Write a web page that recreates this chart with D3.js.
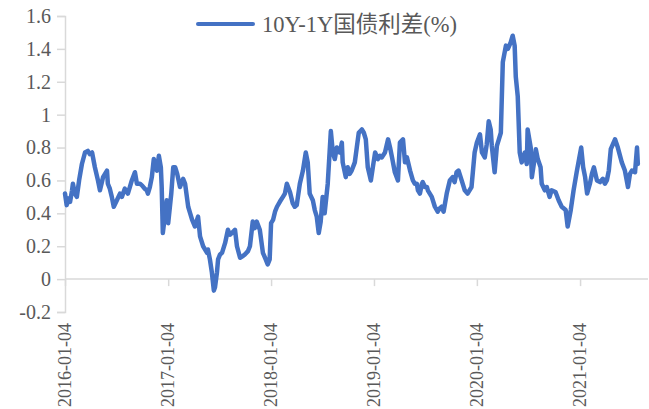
<!DOCTYPE html>
<html>
<head>
<meta charset="utf-8">
<script src="https://cdn.jsdelivr.net/npm/d3@7/dist/d3.min.js"></script>
<style>
  html, body { margin: 0; padding: 0; background: #fff; }
  svg { display: block; }
</style>
</head>
<body>
<svg id="chart" width="649" height="409"></svg>
<script>
// 10Y-1Y government bond yield spread (%), sampled trading dates
const dates = [
  "2016-01-04","2016-01-10","2016-01-15","2016-01-22","2016-01-29","2016-02-01","2016-02-08","2016-02-15","2016-02-23","2016-03-04",
  "2016-03-15","2016-03-25","2016-04-01","2016-04-09","2016-04-19","2016-04-30","2016-05-07","2016-05-18","2016-05-25","2016-06-01",
  "2016-06-04","2016-06-11","2016-06-18","2016-06-25","2016-07-06","2016-07-17","2016-07-24","2016-08-03","2016-08-14","2016-08-21",
  "2016-08-28","2016-09-08","2016-09-15","2016-09-26","2016-10-03","2016-10-13","2016-10-20","2016-10-24","2016-10-31","2016-11-07",
  "2016-11-14","2016-11-21","2016-11-25","2016-12-02","2016-12-09","2016-12-12","2016-12-16","2016-12-23","2016-12-30",
  "2017-01-04","2017-01-15","2017-01-22","2017-01-29","2017-02-05","2017-02-15","2017-02-26","2017-03-05","2017-03-16","2017-03-23",
  "2017-03-30","2017-04-09","2017-04-20","2017-04-27","2017-05-08","2017-05-22","2017-05-25","2017-06-01","2017-06-08","2017-06-15",
  "2017-06-19","2017-06-26","2017-06-30","2017-07-07","2017-07-14","2017-07-25","2017-08-04","2017-08-11","2017-08-18","2017-08-29",
  "2017-09-05","2017-09-16","2017-09-26","2017-10-03","2017-10-14","2017-10-21","2017-10-31","2017-11-07","2017-11-14","2017-11-25",
  "2017-12-06","2017-12-16","2017-12-23","2017-12-30",
  "2018-01-04","2018-01-11","2018-01-18","2018-01-25","2018-02-04","2018-02-15","2018-02-22","2018-03-01","2018-03-12","2018-03-22",
  "2018-03-29","2018-04-05","2018-04-16","2018-04-27","2018-05-07","2018-05-14","2018-05-21","2018-06-01","2018-06-08","2018-06-15",
  "2018-06-22","2018-06-29","2018-07-06","2018-07-13","2018-07-24","2018-08-04","2018-08-11","2018-08-18","2018-08-25","2018-09-05",
  "2018-09-12","2018-09-15","2018-09-26","2018-10-03","2018-10-10","2018-10-17","2018-10-28","2018-11-04","2018-11-11","2018-11-22",
  "2018-11-29","2018-12-06","2018-12-13","2018-12-24","2018-12-31",
  "2019-01-08","2019-01-18","2019-01-25","2019-02-01","2019-02-12","2019-02-23","2019-03-02","2019-03-09","2019-03-19","2019-03-30",
  "2019-04-06","2019-04-17","2019-04-24","2019-05-01","2019-05-12","2019-05-22","2019-05-29","2019-06-05","2019-06-09","2019-06-16",
  "2019-06-23","2019-06-26","2019-07-04","2019-07-11","2019-07-14","2019-07-21","2019-07-28","2019-08-08","2019-08-18","2019-08-25",
  "2019-09-01","2019-09-08","2019-09-19","2019-09-30","2019-10-10","2019-10-17","2019-10-24","2019-10-31","2019-11-11","2019-11-22",
  "2019-12-02","2019-12-09","2019-12-16","2019-12-27",
  "2020-01-04","2020-01-15","2020-01-22","2020-02-01","2020-02-08","2020-02-15","2020-02-22","2020-02-26","2020-03-07","2020-03-15",
  "2020-03-22","2020-03-29","2020-04-05","2020-04-16","2020-04-23","2020-05-03","2020-05-10","2020-05-17","2020-05-21","2020-05-28",
  "2020-06-04","2020-06-11","2020-06-22","2020-06-29","2020-07-02","2020-07-13","2020-07-17","2020-07-24","2020-07-31","2020-08-07",
  "2020-08-17","2020-08-21","2020-09-01","2020-09-08","2020-09-18","2020-09-25","2020-10-09","2020-10-20","2020-10-31","2020-11-14",
  "2020-11-21","2020-12-02","2020-12-12","2020-12-23",
  "2021-01-08","2021-01-15","2021-01-22","2021-01-29","2021-02-08","2021-02-15","2021-02-22","2021-03-05","2021-03-16","2021-03-26",
  "2021-04-02","2021-04-09","2021-04-16","2021-04-23","2021-05-08","2021-05-18","2021-06-01","2021-06-12","2021-06-23","2021-06-30",
  "2021-07-07","2021-07-18","2021-07-25","2021-07-28"
];
const spread = [
  0.52,0.45,0.49,0.47,0.54,0.58,0.52,0.50,0.60,0.70,
  0.77,0.78,0.76,0.77,0.68,0.60,0.54,0.62,0.64,0.66,
  0.58,0.55,0.50,0.44,0.48,0.52,0.50,0.55,0.52,0.56,
  0.60,0.65,0.58,0.58,0.57,0.55,0.54,0.52,0.56,0.62,
  0.73,0.68,0.66,0.75,0.68,0.56,0.28,0.38,0.48,
  0.34,0.52,0.68,0.68,0.64,0.56,0.61,0.58,0.44,0.40,
  0.36,0.32,0.38,0.26,0.20,0.16,0.18,0.12,0.04,-0.07,
  -0.05,0.04,0.12,0.15,0.16,0.22,0.30,0.27,0.28,0.30,
  0.20,0.13,0.14,0.15,0.17,0.20,0.35,0.31,0.35,0.30,
  0.16,0.12,0.09,0.12,
  0.34,0.36,0.41,0.44,0.47,0.50,0.52,0.58,0.53,0.46,
  0.44,0.45,0.58,0.66,0.77,0.71,0.52,0.48,0.42,0.38,
  0.28,0.35,0.50,0.40,0.58,0.90,0.77,0.73,0.80,0.77,
  0.83,0.71,0.62,0.68,0.64,0.66,0.71,0.80,0.89,0.91,
  0.89,0.85,0.68,0.60,0.68,
  0.77,0.73,0.75,0.74,0.77,0.85,0.80,0.74,0.65,0.60,
  0.83,0.85,0.71,0.74,0.66,0.60,0.58,0.58,0.54,0.52,
  0.58,0.59,0.56,0.56,0.54,0.52,0.50,0.44,0.41,0.43,
  0.44,0.41,0.52,0.60,0.62,0.59,0.65,0.66,0.60,0.54,
  0.52,0.54,0.56,0.77,
  0.83,0.88,0.77,0.74,0.82,0.96,0.91,0.81,0.65,0.81,
  0.85,0.89,1.32,1.42,1.40,1.44,1.48,1.42,1.23,1.11,
  0.77,0.71,0.77,0.70,0.91,0.80,0.62,0.70,0.79,0.73,
  0.68,0.58,0.54,0.56,0.50,0.54,0.53,0.48,0.44,0.42,
  0.32,0.42,0.54,0.65,
  0.80,0.68,0.62,0.52,0.58,0.64,0.68,0.60,0.59,0.61,
  0.58,0.60,0.66,0.79,0.85,0.80,0.71,0.66,0.56,0.64,
  0.66,0.65,0.80,0.70
];
const xTickLabels = ["2016-01-04","2017-01-04","2018-01-04","2019-01-04","2020-01-04","2021-01-04"];
const yTicks = [-0.2, 0, 0.2, 0.4, 0.6, 0.8, 1, 1.2, 1.4, 1.6];
const seriesName = "10Y-1Y国债利差(%)";

(function draw() {
  const parse = d3.timeParse("%Y-%m-%d");
  const points = dates.map((d, i) => ({ date: parse(d), value: spread[i] }));

  const svg = d3.select("#chart");
  const plot = { left: 65, right: 648, top: 16, bottom: 312 };
  const textColor = "#595959", axisColor = "#d9d9d9", lineColor = "#4472C4";
  const fontFamily = "'Liberation Serif', 'DejaVu Serif', 'Noto Sans CJK SC', serif";

  const x = d3.scaleTime()
    .domain([parse("2016-01-04"), parse("2021-09-02")])
    .range([plot.left, plot.right]);
  const y = d3.scaleLinear().domain([-0.2, 1.6]).range([plot.bottom, plot.top]);

  const fmt = d => (d < 0 ? "-" : "") + d3.format("")(+Math.abs(d).toFixed(1));

  // value axis
  const yAxis = svg.append("g")
    .attr("transform", `translate(${plot.left},0)`)
    .call(d3.axisLeft(y).tickValues(yTicks).tickSize(8).tickPadding(6).tickFormat(fmt));
  yAxis.select(".domain").attr("stroke", axisColor).attr("stroke-width", 1.5);
  yAxis.selectAll(".tick line").attr("stroke", axisColor).attr("stroke-width", 1.5);
  yAxis.selectAll(".tick text")
    .attr("fill", textColor)
    .style("font-family", fontFamily)
    .style("font-size", "20px");

  // date axis crossing at zero
  const xAxis = svg.append("g")
    .attr("transform", `translate(0,${y(0)})`)
    .call(d3.axisBottom(x).tickValues(xTickLabels.map(parse)).tickSize(7).tickFormat(() => ""));
  xAxis.select(".domain").attr("stroke", axisColor).attr("stroke-width", 1.5)
    .attr("d", `M${plot.left},0H${plot.right}`);
  xAxis.selectAll(".tick line").attr("stroke", axisColor).attr("stroke-width", 1.5);

  svg.append("g").selectAll("text")
    .data(xTickLabels)
    .join("text")
    .attr("transform", d => `translate(${x(parse(d))},323) rotate(-90)`)
    .attr("text-anchor", "end")
    .attr("dy", "0.35em")
    .attr("fill", textColor)
    .style("font-family", fontFamily)
    .style("font-size", "18px")
    .text(d => d);

  // spread line
  svg.append("path")
    .datum(points)
    .attr("fill", "none")
    .attr("stroke", lineColor)
    .attr("stroke-width", 4.5)
    .attr("stroke-linejoin", "round")
    .attr("stroke-linecap", "round")
    .attr("d", d3.line().x(d => x(d.date)).y(d => y(d.value)));

  // legend
  const legend = svg.append("g");
  legend.append("line")
    .attr("x1", 198).attr("x2", 253).attr("y1", 24).attr("y2", 24)
    .attr("stroke", lineColor).attr("stroke-width", 4).attr("stroke-linecap", "round");
  legend.append("text")
    .attr("x", 262).attr("y", 24).attr("dy", "0.35em")
    .attr("fill", textColor)
    .style("font-family", fontFamily)
    .style("font-size", "22.5px")
    .text(seriesName);
})();
</script>
</body>
</html>
